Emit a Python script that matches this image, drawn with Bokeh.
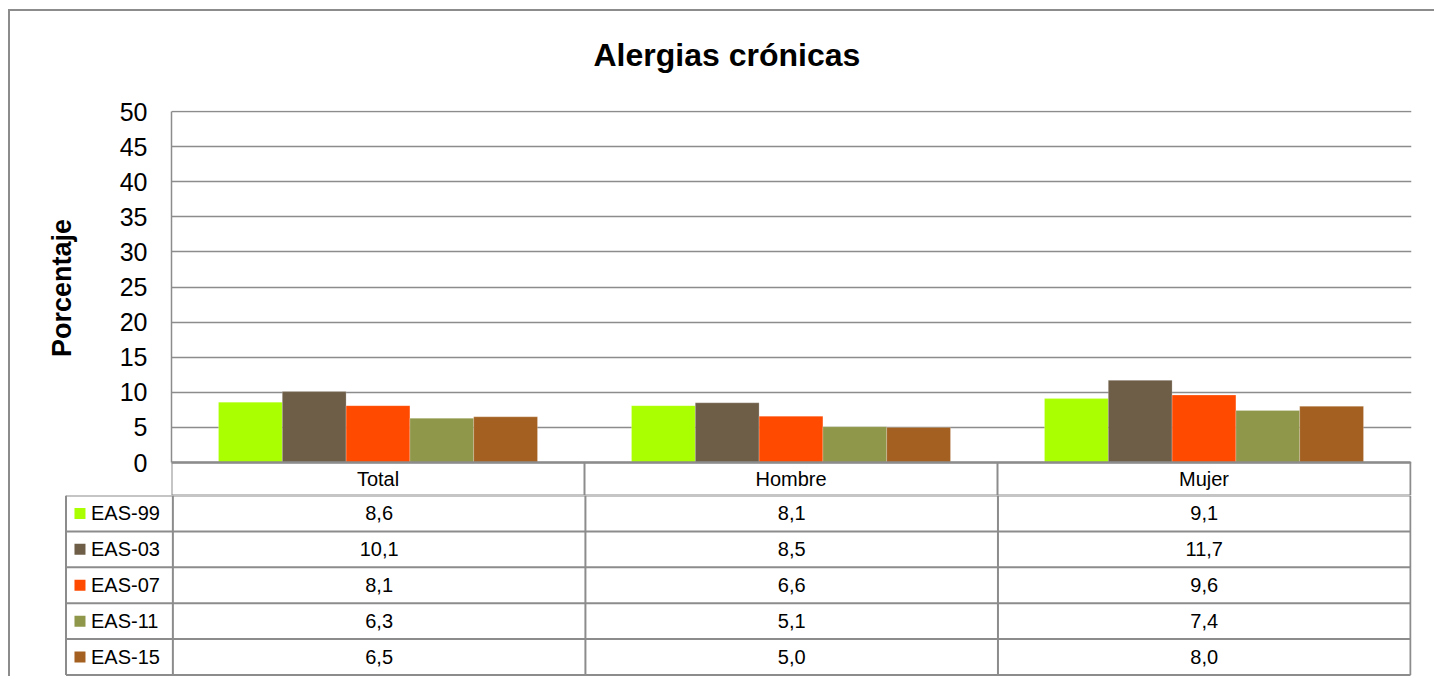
from bokeh.plotting import figure
from bokeh.models import Range1d, FixedTicker, Title
from bokeh.layouts import column
from bokeh.core.properties import value
from bokeh.embed import file_html
from bokeh.resources import INLINE

# ---------------- data ----------------
categories = ["Total", "Hombre", "Mujer"]
series = ["EAS-99", "EAS-03", "EAS-07", "EAS-11", "EAS-15"]
eas99 = [8.6, 8.1, 9.1]
eas03 = [10.1, 8.5, 11.7]
eas07 = [8.1, 6.6, 9.6]
eas11 = [6.3, 5.1, 7.4]
eas15 = [6.5, 5.0, 8.0]
colors = ["#AAFF00", "#6E5E48", "#FF4A00", "#8F974A", "#A46021"]
y_ticks = [0, 5, 10, 15, 20, 25, 30, 35, 40, 45, 50]
title_text = "Alergias crónicas"
y_label = "Porcentaje"

data = [eas99, eas03, eas07, eas11, eas15]

FONT = "Liberation Sans"
GRAY = "#8C8C8C"

# layout constants (pixels)
COL_W = 413.0            # width of one category column
UNIT_PX = 351.0 / 50.0   # pixels per percentage point
HDR_PX = 33.0            # height of the header row
ROW_PX = 36.2            # height of a table row

hdr = HDR_PX / UNIT_PX
top_pad = 1.0 / UNIT_PX
right_pad = 1.0 / COL_W

# ---------------- chart (with header row of the table) ----------------
p1 = figure(width=1424, height=484,
            x_range=Range1d(0, 3 + right_pad), y_range=Range1d(-hdr, 50 + top_pad),
            output_backend="svg", toolbar_location=None,
            min_border_left=161, min_border_right=23, min_border_top=99, min_border_bottom=0,
            x_axis_location=None)
p1.frame_align = False
p1.background_fill_color = "white"
p1.border_fill_color = "white"
p1.outline_line_color = None
p1.xgrid.visible = False
p1.ygrid.grid_line_color = GRAY
p1.ygrid.grid_line_width = 1.5

ax = p1.yaxis[0]
ax.ticker = FixedTicker(ticks=y_ticks)
ax.bounds = (0, 50)
ax.axis_line_color = GRAY
ax.axis_line_width = 1.5
ax.major_tick_out = 0
ax.major_tick_in = 0
ax.minor_tick_line_color = None
ax.major_label_text_font = FONT
ax.major_label_text_font_size = "25px"
ax.major_label_text_color = "black"
ax.major_label_standoff = 24
# leading no-break spaces keep the (frame-centred) title centred on the 0-50 range
ax.axis_label = "\u00a0\u00a0\u00a0\u00a0" + y_label
ax.axis_label_text_font = FONT
ax.axis_label_text_font_size = "27px"
ax.axis_label_text_font_style = "bold"
ax.axis_label_text_color = "black"
ax.axis_label_standoff = 40

# spacer panel between the frame and the chart title
p1.add_layout(Title(text=" ", text_font_size="2px", standoff=34), "above")
p1.add_layout(Title(text=title_text, align="left", offset=422, standoff=0,
                    text_font=FONT, text_font_size="32px", text_font_style="bold",
                    text_color="black"), "above")

bar_w = 63.8 / COL_W
for i, (vals, col) in enumerate(zip(data, colors)):
    xs = [j + 0.5 + (i - 2) * bar_w for j in range(len(categories))]
    p1.vbar(x=xs, top=vals, bottom=0, width=bar_w, fill_color=col,
            line_color="white", line_width=0.6, line_alpha=0.35)

# header row of the data table
n_cat = len(categories)
p1.segment(x0=list(range(n_cat + 1)), y0=[-hdr] * (n_cat + 1),
           x1=list(range(n_cat + 1)), y1=[0] * (n_cat + 1),
           line_color=GRAY, line_width=2)
p1.segment(x0=[0, 0], y0=[0, -hdr], x1=[n_cat, n_cat], y1=[0, -hdr],
           line_color=GRAY, line_width=[2.5, 2])
p1.text(x=[j + 0.5 for j in range(n_cat)], y=[-hdr / 2] * n_cat, text=categories,
        text_align="center", text_baseline="middle",
        text_font=value(FONT), text_font_size="20px", text_color="black")

# ---------------- data table rows ----------------
n_rows = len(series)
x_left = -107.0 / COL_W       # left edge of the legend column

p2 = figure(width=1424, height=181,
            x_range=Range1d(x_left - 1.5 / COL_W, 3 + right_pad),
            y_range=Range1d(-1.5 / ROW_PX, n_rows),
            output_backend="svg", toolbar_location=None,
            min_border_left=54, min_border_right=23, min_border_top=0, min_border_bottom=0,
            x_axis_location=None, y_axis_location=None)
p2.frame_align = False
p2.outline_line_color = None
p2.grid.visible = False
p2.background_fill_color = "white"
p2.border_fill_color = "white"

# horizontal lines
hy = list(range(n_rows + 1))
p2.segment(x0=[x_left] * (n_rows + 1), y0=hy, x1=[n_cat] * (n_rows + 1), y1=hy,
           line_color=GRAY, line_width=2)
# vertical lines
vx = [x_left] + list(range(n_cat + 1))
p2.segment(x0=vx, y0=[0] * len(vx), x1=vx, y1=[n_rows] * len(vx),
           line_color=GRAY, line_width=2)

row_y = [n_rows - 0.5 - i for i in range(n_rows)]
# legend keys + series names
p2.scatter(x=[x_left + 14.0 / COL_W] * n_rows, y=row_y, marker="square", size=11,
           fill_color=colors, line_color=None)
p2.text(x=[x_left + 25.0 / COL_W] * n_rows, y=row_y, text=series, text_align="left",
        text_baseline="middle", text_font=value(FONT), text_font_size="20px",
        text_color="black")

# values
vx_t, vy_t, vt = [], [], []
for i, vals in enumerate(data):
    for j, v in enumerate(vals):
        vx_t.append(j + 0.5)
        vy_t.append(row_y[i])
        vt.append(f"{v:.1f}".replace(".", ","))
p2.text(x=vx_t, y=vy_t, text=vt, text_align="center", text_baseline="middle",
        text_font=value(FONT), text_font_size="20px", text_color="black")

layout = column(p1, p2, spacing=0,
                styles={"border-left": "2px solid #8C8C8C", "border-top": "2px solid #8C8C8C",
                        "margin-top": "9px", "margin-left": "8px"})

open("out.html", "w").write(file_html(layout, INLINE))
